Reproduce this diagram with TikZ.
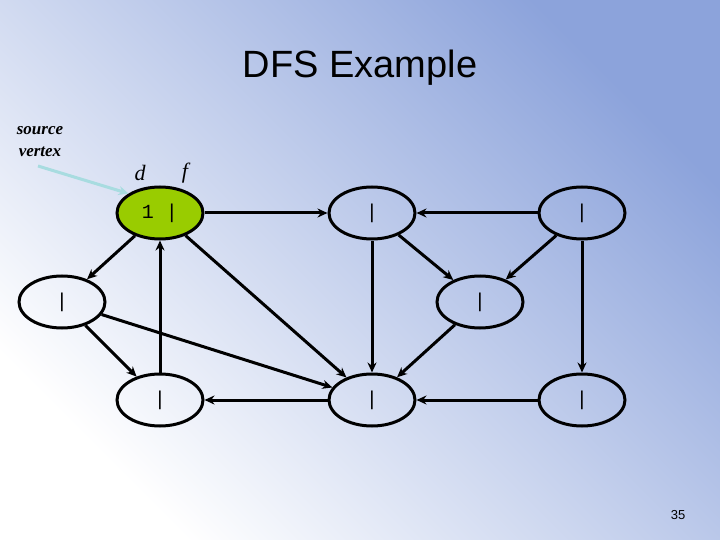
\documentclass[tikz,border=0pt]{standalone}
\usepackage{fontspec}
\setmainfont{Liberation Serif}
\setsansfont{Liberation Sans}
\setmonofont{Liberation Mono}
\usetikzlibrary{shapes.geometric,arrows.meta}
\definecolor{bgblue}{HTML}{8CA3DB}
\definecolor{vgreen}{HTML}{99CC00}
\definecolor{srcarrow}{HTML}{A8DCE0}
\begin{document}
\begin{tikzpicture}[x=1pt,y=-1pt,
  vtx/.style={ellipse,draw,line width=3pt,minimum width=86pt,minimum height=52pt,inner sep=0pt,font=\sffamily\fontsize{20}{20}\selectfont},
  edge/.style={line width=3pt,-{Stealth[length=10pt,width=9pt]}}]
\shade[left color=white,right color=bgblue,shading angle=135] (0,0) rectangle (720,540);
\useasboundingbox (0,0) rectangle (720,540);
\node[font=\sffamily\fontsize{38}{38}\selectfont] (title) at (360,68) {DFS Example};
\node[font=\itshape\bfseries\fontsize{17}{22}\selectfont,align=center] (src) at (40,142) {source\\vertex};
\node[font=\itshape\fontsize{22}{22}\selectfont] (d) at (140,173) {d};
\node[font=\itshape\fontsize{22}{22}\selectfont] (f) at (185,173) {f};
\node[vtx,fill=vgreen,font=\ttfamily\fontsize{20}{20}\selectfont] (A) at (160,213) {1~|};
\node[vtx] (B) at (372,213) {|};
\node[vtx] (C) at (582,213) {|};
\node[vtx] (D) at (62,302) {|};
\node[vtx] (E) at (480,302) {|};
\node[vtx] (F) at (160,400) {|};
\node[vtx] (G) at (372,400) {|};
\node[vtx] (H) at (582,400) {|};
\coordinate (s0) at (38,166);
\draw[srcarrow,line width=3pt,-{Stealth[length=10pt,width=9pt]}] (s0) -- (A.north west);
\draw[edge] (A) -- (B);
\draw[edge] (C) -- (B);
\draw[edge] (A) -- (D);
\draw[edge] (D) -- (F);
\draw[edge] (F) -- (A);
\draw[edge] (A) -- (G);
\draw[edge] (D) -- (G);
\draw[edge] (B) -- (G);
\draw[edge] (B) -- (E);
\draw[edge] (C) -- (E);
\draw[edge] (C) -- (H);
\draw[edge] (E) -- (G);
\draw[edge] (G) -- (F);
\draw[edge] (H) -- (G);
\node[font=\sffamily\fontsize{13}{13}\selectfont] (pg) at (678,515) {35};
\end{tikzpicture}
\end{document}
